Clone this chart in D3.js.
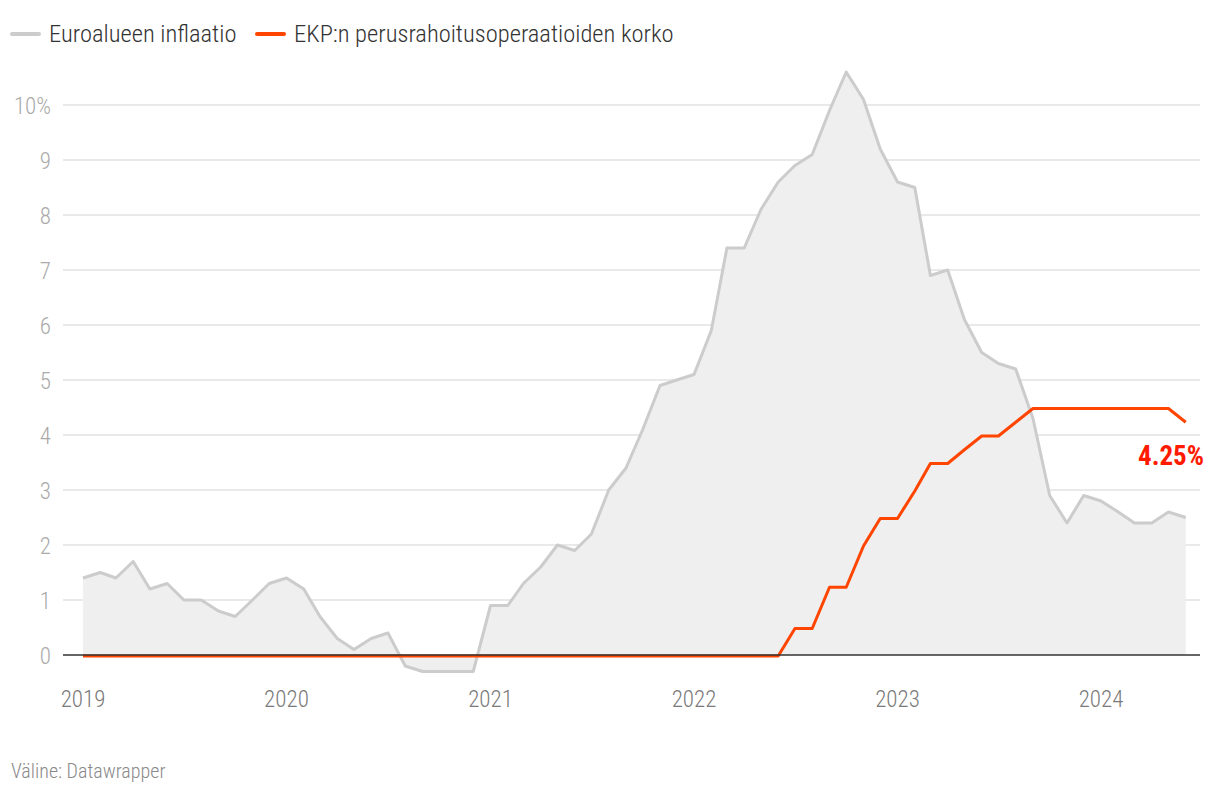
<!DOCTYPE html>
<html>
<head>
<meta charset="utf-8">
<script src="https://cdn.jsdelivr.net/npm/d3@7"></script>
<style>
  html, body { margin: 0; padding: 0; background: #fff; }
  svg { display: block; }
  text { font-family: "Roboto Condensed", "Liberation Sans Narrow", Roboto, sans-serif; font-stretch: condensed; font-weight: 300; }
</style>
</head>
<body>
<svg id="chart" width="1220" height="794"></svg>
<script>
// monthly, Jan 2019 .. Jun 2024
const startMonth = [2019, 0];
const inflation = [
  1.4, 1.5, 1.4, 1.7, 1.2, 1.3, 1.0, 1.0, 0.8, 0.7, 1.0, 1.3,
  1.4, 1.2, 0.7, 0.3, 0.1, 0.3, 0.4, -0.2, -0.3, -0.3, -0.3, -0.3,
  0.9, 0.9, 1.3, 1.6, 2.0, 1.9, 2.2, 3.0, 3.4, 4.1, 4.9, 5.0,
  5.1, 5.9, 7.4, 7.4, 8.1, 8.6, 8.9, 9.1, 9.9, 10.6, 10.1, 9.2,
  8.6, 8.5, 6.9, 7.0, 6.1, 5.5, 5.3, 5.2, 4.3, 2.9, 2.4, 2.9,
  2.8, 2.6, 2.4, 2.4, 2.6, 2.5
];
const ecbRate = [
  0, 0, 0, 0, 0, 0, 0, 0, 0, 0, 0, 0,
  0, 0, 0, 0, 0, 0, 0, 0, 0, 0, 0, 0,
  0, 0, 0, 0, 0, 0, 0, 0, 0, 0, 0, 0,
  0, 0, 0, 0, 0, 0, 0.5, 0.5, 1.25, 1.25, 2.0, 2.5,
  2.5, 3.0, 3.5, 3.5, 3.75, 4.0, 4.0, 4.25, 4.5, 4.5, 4.5, 4.5,
  4.5, 4.5, 4.5, 4.5, 4.5, 4.25
];
const yTicks = [0, 1, 2, 3, 4, 5, 6, 7, 8, 9, 10];
const xTickYears = [2019, 2020, 2021, 2022, 2023, 2024];
const seriesNames = ["Euroalueen inflaatio", "EKP:n perusrahoitusoperaatioiden korko"];
const seriesColors = ["#cccccc", "#ff4500"];
const endLabel = "4.25%";
const sourceText = "Väline: Datawrapper";

const dates = inflation.map((_, i) => new Date(startMonth[0], startMonth[1] + i, 1));

const svg = d3.select("#chart");
const x = d3.scaleTime()
  .domain([new Date(2019, 0, 1), new Date(2024, 0, 1)])
  .range([83, 1101]);
const y = d3.scaleLinear().domain([0, 10]).range([655, 105]);

const gridLeft = 63, gridRight = 1200;

/* grid + y labels */
const yg = svg.append("g");
yg.selectAll("line")
  .data(yTicks.filter(d => d !== 0))
  .join("line")
  .attr("x1", gridLeft).attr("x2", gridRight)
  .attr("y1", d => y(d)).attr("y2", d => y(d))
  .attr("stroke", "#e2e2e2").attr("stroke-width", 1.3);
yg.selectAll("text")
  .data(yTicks)
  .join("text")
  .attr("x", 51)
  .attr("y", d => y(d) + 8.5)
  .attr("text-anchor", "end")
  .attr("fill", "#aaaaaa")
  .attr("font-size", 23)
  .text(d => d === 10 ? "10%" : d);

/* area under inflation */
svg.append("path")
  .datum(inflation)
  .attr("fill", "#efefef")
  .attr("d", d3.area()
    .x((d, i) => x(dates[i]))
    .y0(y(0))
    .y1(d => y(d)));

svg.append("path")
  .datum(inflation)
  .attr("fill", "none")
  .attr("stroke", seriesColors[0])
  .attr("stroke-width", 3)
  .attr("stroke-linejoin", "round")
  .attr("d", d3.line().x((d, i) => x(dates[i])).y(d => y(d)));

/* ecb rate */
svg.append("path")
  .datum(ecbRate)
  .attr("fill", "none")
  .attr("stroke", seriesColors[1])
  .attr("stroke-width", 3)
  .attr("stroke-linejoin", "round")
  .attr("d", d3.line().x((d, i) => x(dates[i])).y(d => y(d) + 1));

/* zero baseline */
svg.append("line")
  .attr("x1", gridLeft).attr("x2", gridRight)
  .attr("y1", y(0)).attr("y2", y(0))
  .attr("stroke", "#333").attr("stroke-width", 1.5);

/* x axis labels */
svg.append("g").selectAll("text")
  .data(xTickYears)
  .join("text")
  .attr("x", d => x(new Date(d, 0, 1)))
  .attr("y", 707)
  .attr("text-anchor", "middle")
  .attr("fill", "#7a7a7a")
  .attr("font-size", 23)
  .text(d => d);

/* end label */
svg.append("text")
  .attr("x", 1204)
  .attr("y", 465)
  .attr("text-anchor", "end")
  .attr("fill", "#ff1a00")
  .attr("font-size", 27)
  .attr("font-weight", 700)
  .style("font-weight", 700)
  .text(endLabel);

/* legend */
const legend = svg.append("g");
const legendX = [10, 255];
seriesNames.forEach((name, i) => {
  legend.append("line")
    .attr("x1", legendX[i] + 2).attr("x2", legendX[i] + 29)
    .attr("y1", 34).attr("y2", 34)
    .attr("stroke", seriesColors[i]).attr("stroke-width", 4)
    .attr("stroke-linecap", "round");
  legend.append("text")
    .attr("x", legendX[i] + (i === 0 ? 39 : 39))
    .attr("y", 42)
    .attr("fill", "#333")
    .attr("font-size", 24.5)
    .text(name);
});

/* source */
svg.append("text")
  .attr("x", 11).attr("y", 778)
  .attr("fill", "#8a8a8a")
  .attr("font-size", 20)
  .text(sourceText);
</script>
</body>
</html>
